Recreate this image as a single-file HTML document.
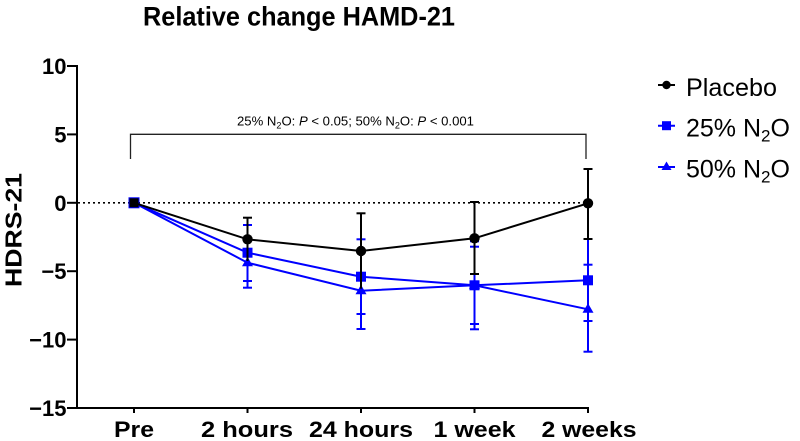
<!DOCTYPE html>
<html><head><meta charset="utf-8"><style>
html,body{margin:0;padding:0;background:#fff;}
svg{display:block;}
text{font-family:"Liberation Sans",Arial,sans-serif;}
</style></head><body>
<svg width="800" height="441" viewBox="0 0 800 441" xmlns="http://www.w3.org/2000/svg">
<rect width="800" height="441" fill="#fff"/>
<!-- Title -->
<text x="143" y="25.5" font-size="27" font-weight="bold" textLength="312" lengthAdjust="spacingAndGlyphs">Relative change HAMD-21</text>

<!-- Y axis label -->
<text transform="translate(21.5,230) rotate(-90)" text-anchor="middle" font-size="23" font-weight="bold" textLength="114" lengthAdjust="spacingAndGlyphs">HDRS-21</text>

<!-- Axes -->
<g stroke="#000" stroke-width="2" fill="none">
<line x1="77" y1="65" x2="77" y2="409"/>
<line x1="76" y1="408" x2="589" y2="408"/>
<line x1="67" y1="66" x2="77" y2="66"/>
<line x1="67" y1="134.4" x2="77" y2="134.4"/>
<line x1="67" y1="202.8" x2="77" y2="202.8"/>
<line x1="67" y1="271.2" x2="77" y2="271.2"/>
<line x1="67" y1="339.6" x2="77" y2="339.6"/>
<line x1="67" y1="408" x2="77" y2="408"/>
<line x1="134" y1="408" x2="134" y2="413"/>
<line x1="247.5" y1="408" x2="247.5" y2="413"/>
<line x1="361" y1="408" x2="361" y2="413"/>
<line x1="474.5" y1="408" x2="474.5" y2="413"/>
<line x1="588" y1="408" x2="588" y2="413"/>
</g>

<!-- Y tick labels -->
<g font-size="22" font-weight="bold" text-anchor="end">
<text x="66.5" y="74">10</text>
<text x="66.5" y="142.4">5</text>
<text x="66.5" y="210.8">0</text>
<text x="66.5" y="279.2">−5</text>
<text x="66.5" y="347.6">−10</text>
<text x="66.5" y="416">−15</text>
</g>

<!-- X tick labels -->
<g font-size="22" font-weight="bold" text-anchor="middle">
<text x="134" y="437" textLength="40" lengthAdjust="spacingAndGlyphs">Pre</text>
<text x="247" y="437" textLength="92" lengthAdjust="spacingAndGlyphs">2 hours</text>
<text x="361" y="437" textLength="104" lengthAdjust="spacingAndGlyphs">24 hours</text>
<text x="474.5" y="437" textLength="82" lengthAdjust="spacingAndGlyphs">1 week</text>
<text x="589" y="437" textLength="95" lengthAdjust="spacingAndGlyphs">2 weeks</text>
</g>

<!-- Zero dotted line -->
<line x1="78" y1="202.8" x2="588" y2="202.8" stroke="#000" stroke-width="1.6" stroke-dasharray="2,3"/>

<!-- Bracket -->
<polyline points="130.5,159 130.5,134.3 586,134.3 586,159" fill="none" stroke="#222" stroke-width="1.3"/>
<text x="237" y="125.5" font-size="13" textLength="237" lengthAdjust="spacingAndGlyphs">25% N<tspan font-size="9" dy="3">2</tspan><tspan dy="-3">O: </tspan><tspan font-style="italic">P</tspan> &lt; 0.05; 50% N<tspan font-size="9" dy="3">2</tspan><tspan dy="-3">O: </tspan><tspan font-style="italic">P</tspan> &lt; 0.001</text>

<!-- 50% N2O series -->
<g stroke="#0000ff" stroke-width="2" fill="none">
<line x1="247.5" y1="237.7" x2="247.5" y2="287.7"/><line x1="243" y1="287.7" x2="252" y2="287.7"/>
<line x1="361" y1="252.4" x2="361" y2="329"/><line x1="356.5" y1="329" x2="365.5" y2="329"/>
<line x1="474.5" y1="241.3" x2="474.5" y2="329.3"/><line x1="470" y1="329.3" x2="479" y2="329.3"/><line x1="470" y1="241.3" x2="479" y2="241.3"/>
<line x1="588" y1="264.7" x2="588" y2="351.7"/><line x1="583.5" y1="351.7" x2="592.5" y2="351.7"/><line x1="583.5" y1="264.7" x2="592.5" y2="264.7"/>
<polyline points="134,202.8 247.5,262.7 361,290.7 474.5,285.3 588,309.3"/>
</g>
<g fill="#0000ff">
<polygon points="247.5,256.7 253,266.2 242,266.2"/>
<polygon points="361,284.7 366.5,294.2 355.5,294.2"/>
<polygon points="474.5,279.3 480,288.8 469,288.8"/>
<polygon points="588,303.3 593.5,312.8 582.5,312.8"/>
</g>

<!-- 25% N2O series -->
<g stroke="#0000ff" stroke-width="2" fill="none">
<line x1="247.5" y1="225" x2="247.5" y2="281"/><line x1="243" y1="225" x2="252" y2="225"/><line x1="243" y1="281" x2="252" y2="281"/>
<line x1="361" y1="239.3" x2="361" y2="314"/><line x1="356.5" y1="239.3" x2="365.5" y2="239.3"/><line x1="356.5" y1="314" x2="365.5" y2="314"/>
<line x1="474.5" y1="246.7" x2="474.5" y2="324"/><line x1="470" y1="246.7" x2="479" y2="246.7"/><line x1="470" y1="324" x2="479" y2="324"/>
<line x1="588" y1="239" x2="588" y2="321"/><line x1="583.5" y1="321" x2="592.5" y2="321"/>
<polyline points="134,202.8 247.5,252.7 361,276.7 474.5,285.3 588,280.3"/>
</g>
<g fill="#0000ff">
<rect x="128.5" y="197.3" width="11" height="11"/>
<rect x="242.5" y="247.7" width="10" height="10"/>
<rect x="356" y="271.7" width="10" height="10"/>
<rect x="469.5" y="280.3" width="10" height="10"/>
<rect x="583" y="275.3" width="10" height="10"/>
</g>

<!-- Placebo series -->
<g stroke="#000" stroke-width="2" fill="none">
<line x1="247.5" y1="217.7" x2="247.5" y2="261"/><line x1="243" y1="217.7" x2="252" y2="217.7"/>
<line x1="361" y1="213.3" x2="361" y2="288.7"/><line x1="356.5" y1="213.3" x2="365.5" y2="213.3"/>
<line x1="474.5" y1="202" x2="474.5" y2="274"/><line x1="470" y1="202" x2="479" y2="202"/><line x1="470" y1="274" x2="479" y2="274"/>
<line x1="588" y1="169" x2="588" y2="239"/><line x1="583.5" y1="169" x2="592.5" y2="169"/><line x1="583.5" y1="239" x2="592.5" y2="239"/>
<polyline points="134,202.8 247.5,239.3 361,251 474.5,238.3 588,203.3"/>
</g>
<g fill="#000">
<rect x="129.5" y="198.3" width="9" height="9"/>
<circle cx="247.5" cy="239.3" r="5.2"/>
<circle cx="361" cy="251" r="5.2"/>
<circle cx="474.5" cy="238.3" r="5.2"/>
<circle cx="588" cy="203.3" r="5.2"/>
</g>

<!-- Legend -->
<g stroke-width="2">
<line x1="658" y1="85" x2="675" y2="85" stroke="#000"/>
<circle cx="666.5" cy="85" r="4.2" fill="#000"/>
<line x1="658" y1="125.7" x2="675" y2="125.7" stroke="#0000ff"/>
<rect x="662" y="121.2" width="9" height="9" fill="#0000ff"/>
<line x1="658" y1="167" x2="675" y2="167" stroke="#0000ff"/>
<polygon points="666.5,161.5 671.5,170 661.5,170" fill="#0000ff"/>
</g>
<g font-size="25">
<text x="686" y="96" textLength="91" lengthAdjust="spacingAndGlyphs">Placebo</text>
<text x="686" y="136.5">25% N<tspan font-size="17" dy="5">2</tspan><tspan dy="-5">O</tspan></text>
<text x="686" y="177.5">50% N<tspan font-size="17" dy="5">2</tspan><tspan dy="-5">O</tspan></text>
</g>
</svg>
</body></html>
